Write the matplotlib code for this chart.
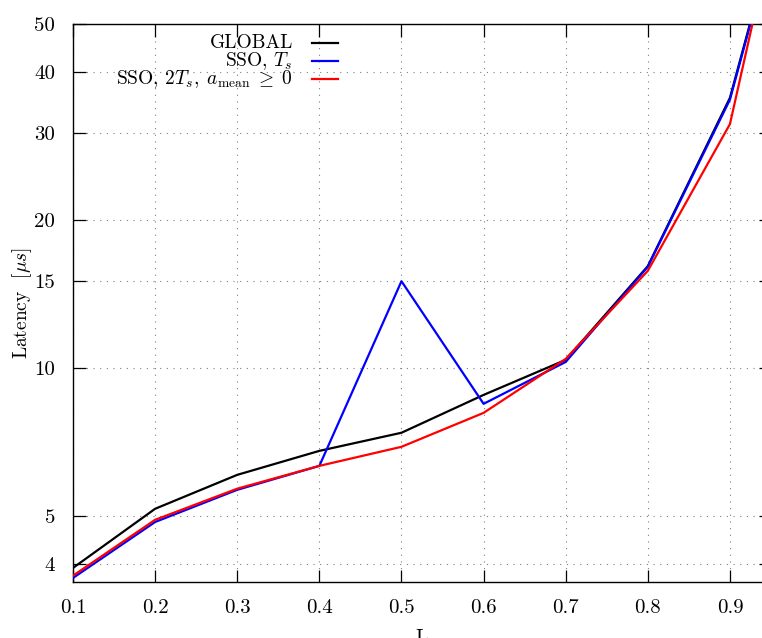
import matplotlib
matplotlib.use("Agg")
import matplotlib.pyplot as plt
from matplotlib.ticker import FixedLocator, NullLocator, FuncFormatter
from matplotlib.lines import Line2D

plt.rcParams['font.family'] = ['cmr10', 'DejaVu Serif']
plt.rcParams['mathtext.fontset'] = 'cm'
plt.rcParams['axes.formatter.use_mathtext'] = True
plt.rcParams['font.size'] = 14

# data
load = [0.1, 0.2, 0.3, 0.4, 0.5, 0.6, 0.7, 0.8, 0.9, 0.95]
lat_global = [3.92, 5.17, 6.06, 6.78, 7.38, 8.81, 10.38, 16.1, 35.4, 72.0]
lat_sso = [3.74, 4.86, 5.65, 6.32, 15.0, 8.45, 10.28, 16.05, 35.1, 71.4]
lat_sso2 = [3.78, 4.91, 5.68, 6.32, 6.91, 8.10, 10.43, 15.75, 31.3, 73.6]

names = ["GLOBAL", r"SSO, $T_s$", r"SSO, $2T_s,\;a_{\rm mean}\;\geq\;0$"]
colors = ["black", "blue", "red"]

xticks = [0.1, 0.2, 0.3, 0.4, 0.5, 0.6, 0.7, 0.8, 0.9]
yticks = [4, 5, 10, 15, 20, 30, 40, 50]

fig = plt.figure(figsize=(7.62, 6.38), dpi=100)
# plot area runs past the right edge (cropped like the original)
ax = fig.add_axes([73/762, 1 - 582/638, (771 - 73)/762, (582 - 24)/638])

for y, c in zip([lat_global, lat_sso, lat_sso2], colors):
    ax.plot(load, y, color=c, lw=1.6, zorder=3)

ax.set_yscale('log')
ax.set_xlim(0.1, 0.95)
ax.set_ylim(3.67, 50)

ax.xaxis.set_major_locator(FixedLocator(xticks))
ax.xaxis.set_major_formatter(FuncFormatter(lambda v, p: "%.1f" % v))
ax.yaxis.set_major_locator(FixedLocator(yticks))
ax.yaxis.set_major_formatter(FuncFormatter(lambda v, p: "%d" % round(v)))
ax.yaxis.set_minor_locator(NullLocator())
ax.xaxis.set_minor_locator(NullLocator())

ax.tick_params(direction='in', length=9, width=0.9, top=True, right=True, labelsize=15)
ax.tick_params(axis='x', pad=12)
ax.tick_params(axis='y', pad=13)
for s in ax.spines.values():
    s.set_linewidth(1.0)

ax.grid(True, color='gray', lw=0.8, ls=(0, (1, 5)))

ax.set_ylabel(r"Latency  [$\mu s$]", labelpad=0)
# label sits mostly below the bottom edge, as in the cropped original
ax.set_xlabel("L", labelpad=9)

# gnuplot-style key: right-aligned text, sample line after it
key_y = [0.966, 0.934, 0.901]
for name, c, ky in zip(names, colors, key_y):
    ax.text(0.315, ky - 0.009, name, transform=ax.transAxes, ha='right', va='baseline')
    ax.add_line(Line2D([0.3424, 0.3797], [ky, ky], transform=ax.transAxes,
                       color=c, lw=1.6))

fig.savefig("out.png", dpi=100)
